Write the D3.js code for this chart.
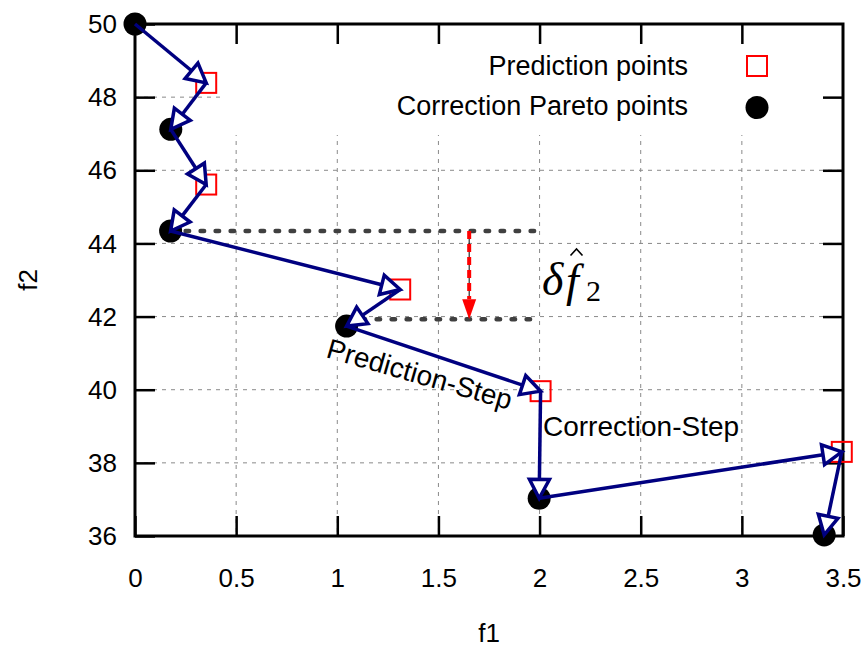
<!DOCTYPE html>
<html>
<head>
<meta charset="utf-8">
<script src="https://cdn.jsdelivr.net/npm/d3@7"></script>
<style>
  body { margin: 0; background: #fff; }
  svg { display: block; font-family: "Liberation Sans", Arial, sans-serif; }
</style>
</head>
<body>
<div class="svgContainer"></div>
<script>
// prediction points (red open squares)
const predF1 = [0.352, 0.352, 1.311, 2.005, 3.494];
const predF2 = [48.39, 45.61, 42.74, 39.96, 38.30];
// correction pareto points (black dots)
const corrF1 = [0, 0.177, 0.176, 1.046, 1.998, 3.407];
const corrF2 = [50, 47.12, 44.34, 41.74, 37.03, 36.03];

const xTicks = [0, 0.5, 1, 1.5, 2, 2.5, 3, 3.5];
const yTicks = [36, 38, 40, 42, 44, 46, 48, 50];

// dotted guide lines and the delta arrow
const guideY = [44.34, 41.93];
const guideX0 = [0.176, 1.046];
const guideX1 = [1.98, 1.98];
const deltaX = 1.652;
const deltaFrom = 44.34;
const deltaTo = 41.93;

const width = 864;
const height = 648;
const margin = {left: 135, right: 21, top: 24, bottom: 112};
const plotW = width - margin.left - margin.right;
const plotH = height - margin.top - margin.bottom;
const navy = '#000080';

const svg = d3.select('.svgContainer').append('svg')
  .attr('width', width)
  .attr('height', height);

const scaleX = d3.scaleLinear().domain([0, 3.5]).range([margin.left, margin.left + plotW]);
const scaleY = d3.scaleLinear().domain([36, 50]).range([margin.top + plotH, margin.top]);

// grid
const grid = svg.append('g').attr('class', 'grid')
  .attr('stroke', '#8a8a8a').attr('stroke-width', 1).attr('stroke-dasharray', '4,5');
grid.selectAll('line.gx').data(xTicks.slice(1, -1)).enter().append('line')
  .attr('x1', d => scaleX(d)).attr('x2', d => scaleX(d))
  .attr('y1', margin.top).attr('y2', margin.top + plotH);
grid.selectAll('line.gy').data(yTicks.slice(1, -1)).enter().append('line')
  .attr('y1', d => scaleY(d)).attr('y2', d => scaleY(d))
  .attr('x1', margin.left).attr('x2', margin.left + plotW);

// opaque key box hides the grid
svg.append('rect')
  .attr('x', 222).attr('y', margin.top)
  .attr('width', margin.left + plotW - 222).attr('height', 135 - margin.top)
  .attr('fill', '#fff');

// axes (ticks inward on all four sides)
const xAxis = d3.axisBottom(scaleX).tickValues(xTicks).tickSizeInner(-20).tickSizeOuter(0)
  .tickFormat(d3.format('~g'));
const yAxis = d3.axisLeft(scaleY).tickValues(yTicks).tickSizeInner(-20).tickSizeOuter(0);
const xTop = d3.axisTop(scaleX).tickValues(xTicks.slice(1, -1)).tickSizeInner(-20).tickSizeOuter(0).tickFormat('');
const yRight = d3.axisRight(scaleY).tickValues(yTicks.slice(1, -1)).tickSizeInner(-20).tickSizeOuter(0).tickFormat('');

function styleAxis(g) {
  g.select('.domain').remove();
  g.selectAll('line').attr('stroke', '#000').attr('stroke-width', 2.5);
  g.selectAll('text').attr('fill', '#000').attr('font-size', 26)
    .attr('font-family', '"Liberation Sans", Arial, sans-serif');
}

svg.append('g').attr('transform', 'translate(0,' + (margin.top + plotH) + ')').call(xAxis).call(styleAxis)
  .selectAll('text').attr('dy', null).attr('y', 51);
svg.append('g').attr('transform', 'translate(' + margin.left + ',0)').call(yAxis).call(styleAxis)
  .selectAll('text').attr('x', -18).attr('dy', '0.33em');
svg.append('g').attr('transform', 'translate(0,' + margin.top + ')').call(xTop).call(styleAxis);
svg.append('g').attr('transform', 'translate(' + (margin.left + plotW) + ',0)').call(yRight).call(styleAxis);

svg.append('rect')
  .attr('x', margin.left).attr('y', margin.top)
  .attr('width', plotW).attr('height', plotH)
  .attr('fill', 'none').attr('stroke', '#000').attr('stroke-width', 3);

// axis titles
svg.append('text').attr('x', scaleX(1.75)).attr('y', 642)
  .attr('text-anchor', 'middle').attr('font-size', 26).text('f1');
svg.append('text').attr('transform', 'translate(37,' + scaleY(43) + ') rotate(-90)')
  .attr('text-anchor', 'middle').attr('font-size', 26).text('f2');

// dotted guides
svg.selectAll('line.guide').data(guideY).enter().append('line')
  .attr('class', 'guide')
  .attr('x1', (d, i) => scaleX(guideX0[i])).attr('x2', (d, i) => scaleX(guideX1[i]))
  .attr('y1', d => scaleY(d)).attr('y2', d => scaleY(d))
  .attr('stroke', '#404040').attr('stroke-width', 4.5)
  .attr('stroke-linecap', 'round').attr('stroke-dasharray', '3.5,11.5');

// delta arrow: thin black line under red dashes, filled red head
const dHead = 20;
svg.append('line')
  .attr('x1', scaleX(deltaX)).attr('x2', scaleX(deltaX))
  .attr('y1', scaleY(deltaFrom)).attr('y2', scaleY(deltaTo) - dHead)
  .attr('stroke', '#000').attr('stroke-width', 1);
svg.append('line')
  .attr('x1', scaleX(deltaX)).attr('x2', scaleX(deltaX))
  .attr('y1', scaleY(deltaFrom)).attr('y2', scaleY(deltaTo) - dHead)
  .attr('stroke', '#ff0000').attr('stroke-width', 4).attr('stroke-dasharray', '8,5');
svg.append('path')
  .attr('d', 'M' + (scaleX(deltaX) - 7) + ',' + (scaleY(deltaTo) - dHead) +
    'L' + (scaleX(deltaX) + 7) + ',' + (scaleY(deltaTo) - dHead) +
    'L' + scaleX(deltaX) + ',' + scaleY(deltaTo) + 'Z')
  .attr('fill', '#ff0000');

// math label: delta f-hat sub 2
const serif = '"Liberation Serif", "Times New Roman", serif';
svg.append('text').attr('x', 542).attr('y', 295)
  .attr('font-family', serif).attr('font-style', 'italic').attr('font-size', 46).text('\u03b4');
svg.append('text').attr('x', 566).attr('y', 296)
  .attr('font-family', serif).attr('font-style', 'italic').attr('font-size', 46).text('f');
svg.append('text').attr('x', 586).attr('y', 301)
  .attr('font-family', serif).attr('font-size', 30).text('2');
svg.append('path')
  .attr('d', 'M570.5,255.5L576.5,249L582.5,255.5')
  .attr('fill', 'none').attr('stroke', '#000').attr('stroke-width', 1.6);

// points
svg.selectAll('rect.pred').data(predF1).enter().append('rect')
  .attr('class', 'pred')
  .attr('x', (d) => scaleX(d) - 10).attr('y', (d, i) => scaleY(predF2[i]) - 10)
  .attr('width', 20).attr('height', 20)
  .attr('fill', 'none').attr('stroke', '#ff0000').attr('stroke-width', 2);
svg.selectAll('circle.corr').data(corrF1).enter().append('circle')
  .attr('class', 'corr')
  .attr('cx', d => scaleX(d)).attr('cy', (d, i) => scaleY(corrF2[i]))
  .attr('r', 11.5).attr('fill', '#000');

// path of steps: corr -> pred -> corr ...
const steps = [];
corrF1.forEach((d, i) => {
  steps.push([scaleX(d), scaleY(corrF2[i])]);
  if (i < predF1.length) steps.push([scaleX(predF1[i]), scaleY(predF2[i])]);
});

const headLen = 19;
const headHalf = 10;
const arrows = svg.append('g');
for (let i = 0; i < steps.length - 1; i++) {
  const [x1, y1] = steps[i];
  const [x2, y2] = steps[i + 1];
  const len = Math.hypot(x2 - x1, y2 - y1);
  const ux = (x2 - x1) / len, uy = (y2 - y1) / len;
  const bx = x2 - ux * headLen, by = y2 - uy * headLen;
  arrows.append('line')
    .attr('x1', x1).attr('y1', y1).attr('x2', bx).attr('y2', by)
    .attr('stroke', navy).attr('stroke-width', 3.5);
  arrows.append('path')
    .attr('d', 'M' + (bx - uy * headHalf) + ',' + (by + ux * headHalf) +
      'L' + x2 + ',' + y2 +
      'L' + (bx + uy * headHalf) + ',' + (by - ux * headHalf) + 'Z')
    .attr('fill', '#fff').attr('stroke', navy).attr('stroke-width', 3.5)
    .attr('stroke-linejoin', 'miter');
}

// step labels
svg.append('text').attr('transform', 'translate(325,357) rotate(16)')
  .attr('font-size', 28).text('Prediction-Step');
svg.append('text').attr('x', 543).attr('y', 436)
  .attr('font-size', 28).text('Correction-Step');

// key
const key = svg.append('g');
key.append('text').attr('x', 688).attr('y', 75).attr('text-anchor', 'end')
  .attr('font-size', 27).text('Prediction points');
key.append('text').attr('x', 688).attr('y', 115).attr('text-anchor', 'end')
  .attr('font-size', 27).text('Correction Pareto points');
key.append('rect').attr('x', 747).attr('y', 56).attr('width', 20).attr('height', 20)
  .attr('fill', 'none').attr('stroke', '#ff0000').attr('stroke-width', 2);
key.append('circle').attr('cx', 757).attr('cy', 107.5).attr('r', 11.5).attr('fill', '#000');
</script>
</body>
</html>
